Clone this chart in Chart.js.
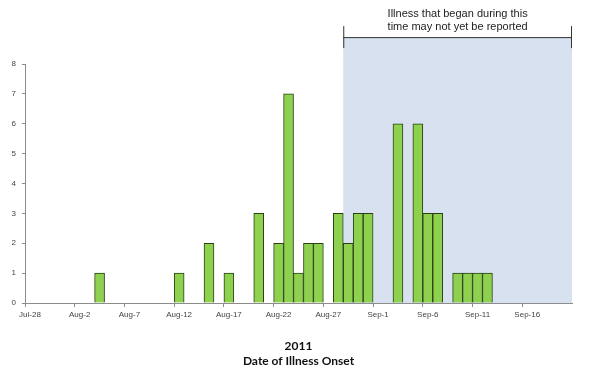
<!DOCTYPE html>
<html>
<head>
<meta charset="utf-8">
<script src="https://cdn.jsdelivr.net/npm/chart.js@4/dist/chart.umd.min.js"></script>
<style>
  html, body { margin: 0; padding: 0; background: #fff; }
  #wrap { width: 600px; height: 385px; }
</style>
</head>
<body>
<div id="wrap"><canvas id="c" width="600" height="385"></canvas></div>
<script>
// onset dates, one per day
const days = [
  'Jul-28', 'Jul-29', 'Jul-30', 'Jul-31',
  'Aug-1', 'Aug-2', 'Aug-3', 'Aug-4', 'Aug-5', 'Aug-6', 'Aug-7', 'Aug-8', 'Aug-9', 'Aug-10',
  'Aug-11', 'Aug-12', 'Aug-13', 'Aug-14', 'Aug-15', 'Aug-16', 'Aug-17', 'Aug-18', 'Aug-19', 'Aug-20',
  'Aug-21', 'Aug-22', 'Aug-23', 'Aug-24', 'Aug-25', 'Aug-26', 'Aug-27', 'Aug-28', 'Aug-29', 'Aug-30', 'Aug-31',
  'Sep-1', 'Sep-2', 'Sep-3', 'Sep-4', 'Sep-5', 'Sep-6', 'Sep-7', 'Sep-8', 'Sep-9', 'Sep-10',
  'Sep-11', 'Sep-12', 'Sep-13', 'Sep-14', 'Sep-15', 'Sep-16', 'Sep-17', 'Sep-18', 'Sep-19', 'Sep-20'
];
// cases per day
const cases = [
  0, 0, 0, 0,
  0, 0, 0, 1, 0, 0, 0, 0, 0, 0,
  0, 1, 0, 0, 2, 0, 1, 0, 0, 3,
  0, 2, 7, 1, 2, 2, 0, 3, 2, 3, 3,
  0, 0, 6, 0, 6, 3, 3, 0, 1, 1,
  1, 1, 0, 0, 0, 0, 0, 0, 0, 0
];
const yTicks = [0, 1, 2, 3, 4, 5, 6, 7, 8];
const shadeFrom = 'Aug-29';
const noteLines = ['Illness that began during this', 'time may not yet be reported'];
const axisTitle = ['2011', 'Date of Illness Onset'];

const axisGray = '#8c8c8c';

/* shaded "not yet reported" area with bracket and note */
const shadePlugin = {
    id: 'shade',
    beforeDatasetsDraw (chart) {
        const x = chart.scales.x;
        const y = chart.scales.y;
        const ctx = chart.ctx;
        const idx = days.indexOf(shadeFrom);
        const half = (x.getPixelForTick(1) - x.getPixelForTick(0)) / 2;
        const x0 = x.getPixelForTick(idx) - half;
        const x1 = chart.chartArea.right;
        const top = y.getPixelForValue(8.9);
        const bot = chart.chartArea.bottom;
        ctx.save();
        ctx.fillStyle = '#d7e1f0';
        ctx.fillRect(x0, top, x1 - x0, bot - top);
        // bracket
        ctx.strokeStyle = '#333';
        ctx.lineWidth = 1;
        ctx.beginPath();
        ctx.moveTo(x0, top + 0.5);
        ctx.lineTo(x1, top + 0.5);
        ctx.moveTo(x0 + 0.5, top - 11);
        ctx.lineTo(x0 + 0.5, top + 11);
        ctx.moveTo(x1 - 0.5, top - 11);
        ctx.lineTo(x1 - 0.5, top + 11);
        ctx.stroke();
        // note
        ctx.fillStyle = '#222';
        ctx.font = '11px "Liberation Sans", Arial, sans-serif';
        ctx.textAlign = 'center';
        ctx.textBaseline = 'middle';
        const cx = (x0 + x1) / 2;
        ctx.fillText(noteLines[0], cx, top - 23);
        ctx.fillText(noteLines[1], cx, top - 10);
        ctx.restore();
    }
};

new Chart(document.getElementById('c').getContext('2d'), {
    type: 'bar',
    data: {
        labels: days,
        datasets: [{
            data: cases,
            backgroundColor: '#8dd14f',
            borderColor: '#2a3f16',
            borderWidth: 1,
            borderSkipped: 'bottom',
            categoryPercentage: 1.0,
            barPercentage: 1.0
        }]
    },
    options: {
        responsive: false,
        animation: false,
        layout: { padding: { top: 64, right: 28, bottom: 0, left: 0 } },
        plugins: {
            legend: { display: false },
            tooltip: { enabled: false }
        },
        scales: {
            x: {
                offset: true,
                border: { color: axisGray, width: 1 },
                grid: {
                    offset: true,
                    drawOnChartArea: false,
                    drawTicks: true,
                    tickLength: 4,
                    color: (ctx) => (ctx.index % 5 === 0 ? axisGray : 'rgba(0,0,0,0)')
                },
                ticks: {
                    autoSkip: false,
                    maxRotation: 0,
                    padding: 3,
                    color: '#444',
                    font: { family: '"Liberation Sans", Arial, sans-serif', size: 8 },
                    callback: (v, i) => (i % 5 === 0 ? days[i] : '')
                },
                title: {
                    display: true,
                    text: axisTitle,
                    color: '#111',
                    font: { family: 'Lato, "Open Sans", sans-serif', size: 12, weight: 'bold', lineHeight: 1.25 },
                    padding: { top: 0, bottom: 16 }
                },
                afterFit (scale) { scale.height = 82; }
            },
            y: {
                min: 0,
                max: 8,
                border: { color: axisGray, width: 1 },
                grid: {
                    drawOnChartArea: false,
                    drawTicks: true,
                    tickLength: 3,
                    color: axisGray
                },
                afterBuildTicks (scale) {
                    scale.ticks = yTicks.map(v => ({ value: v }));
                },
                ticks: {
                    padding: 6,
                    color: '#444',
                    font: { family: '"Liberation Sans", Arial, sans-serif', size: 8 }
                },
                afterFit (scale) { scale.width = 25; }
            }
        }
    },
    plugins: [shadePlugin]
});
</script>
</body>
</html>
